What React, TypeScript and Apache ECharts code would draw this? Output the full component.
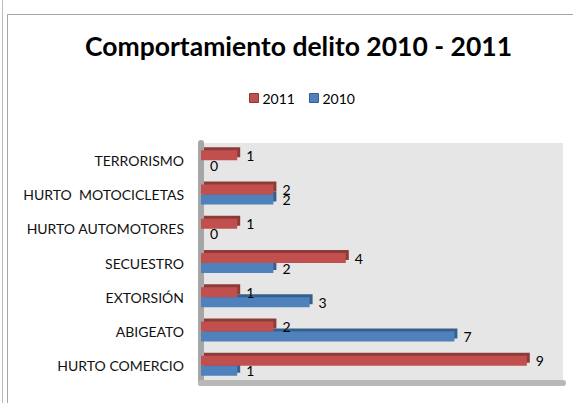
import React, { useEffect, useRef } from "react";
import * as echarts from "echarts";

const categories = [
  "HURTO COMERCIO",
  "ABIGEATO",
  "EXTORSIÓN",
  "SECUESTRO",
  "HURTO AUTOMOTORES",
  "HURTO  MOTOCICLETAS",
  "TERRORISMO",
];
const values2011 = [9, 2, 1, 4, 1, 2, 1];
const values2010 = [1, 7, 3, 2, 0, 2, 0];
const seriesNames = ["2011", "2010"];
const titleText = "Comportamiento delito 2010 - 2011";

const FONT = "Lato, 'Open Sans', sans-serif";
const RED = "#C0504D";
const RED_DARK = "#8C3A38";
const BLUE = "#4F81BD";
const BLUE_DARK = "#385E8C";

export default function App() {
  const ref = useRef<HTMLDivElement>(null);
  useEffect(() => {
    document.body.style.margin = "0";
    const chart = echarts.init(ref.current!, null, { renderer: "svg" });
    const labelStyle = {
      show: true,
      position: "right" as const,
      distance: 9,
      color: "#000",
      fontFamily: FONT,
      fontSize: 14,
    };
    chart.setOption({
      animation: false,
      backgroundColor: "#fff",
      title: {
        text: titleText,
        left: 80,
        top: 27,
        textStyle: {
          fontFamily: FONT,
          fontWeight: "bold",
          fontSize: 26.5,
          color: "#000",
        },
      },
      legend: {
        data: [
          { name: seriesNames[0], itemStyle: { color: RED, borderColor: RED_DARK, borderWidth: 1, shadowColor: "transparent", shadowOffsetX: 0, shadowOffsetY: 0 } },
          { name: seriesNames[1], itemStyle: { color: BLUE, borderColor: BLUE_DARK, borderWidth: 1, shadowColor: "transparent", shadowOffsetX: 0, shadowOffsetY: 0 } },
        ],
        top: 86,
        left: 244,
        icon: "rect",
        itemWidth: 9,
        itemHeight: 9,
        itemGap: 14,
        textStyle: { fontFamily: FONT, fontSize: 14, color: "#000", padding: [0, 0, 0, -1] },
      },
      grid: {
        left: 201,
        right: 10,
        top: 143,
        bottom: 20,
        show: true,
        backgroundColor: "#E6E6E6",
        borderWidth: 0,
      },
      xAxis: {
        type: "value",
        min: 0,
        max: 10,
        interval: 1,
        axisLabel: { show: false },
        splitLine: { show: false },
        axisTick: { show: false },
        axisLine: { show: true, lineStyle: { color: "#B8B8B8", width: 6 } },
      },
      yAxis: {
        type: "category",
        data: categories,
        axisTick: { show: false },
        axisLine: { show: true, lineStyle: { color: "#A6A6A6", width: 6 } },
        axisLabel: {
          fontFamily: FONT,
          fontSize: 14,
          color: "#111",
          margin: 17,
          padding: [22, 0, 0, 0],
        },
      },
      series: [
        {
          name: seriesNames[0],
          type: "bar",
          data: values2011,
          barWidth: 10,
          barGap: "0%",
          z: 3,
          itemStyle: {
            color: RED,
            shadowColor: RED_DARK,
            shadowBlur: 0,
            shadowOffsetX: 3,
            shadowOffsetY: -3,
          },
          label: labelStyle,
        },
        {
          name: seriesNames[1],
          type: "bar",
          data: values2010,
          barWidth: 10,
          barGap: "0%",
          z: 2,
          itemStyle: {
            color: BLUE,
            shadowColor: BLUE_DARK,
            shadowBlur: 0,
            shadowOffsetX: 3,
            shadowOffsetY: -3,
          },
          label: labelStyle,
        },
      ],
      graphic: [
        {
          type: "line",
          shape: { x1: 2.5, y1: 0, x2: 2.5, y2: 403 },
          style: { stroke: "#BDBDBD", lineWidth: 1 },
        },
        {
          type: "rect",
          shape: { x: 7.5, y: 14.5, width: 600, height: 420 },
          style: { stroke: "#A6A6A6", fill: "none", lineWidth: 1 },
        },
      ],
    });
    return () => chart.dispose();
  }, []);
  return <div ref={ref} style={{ width: 573, height: 403 }} />;
}
